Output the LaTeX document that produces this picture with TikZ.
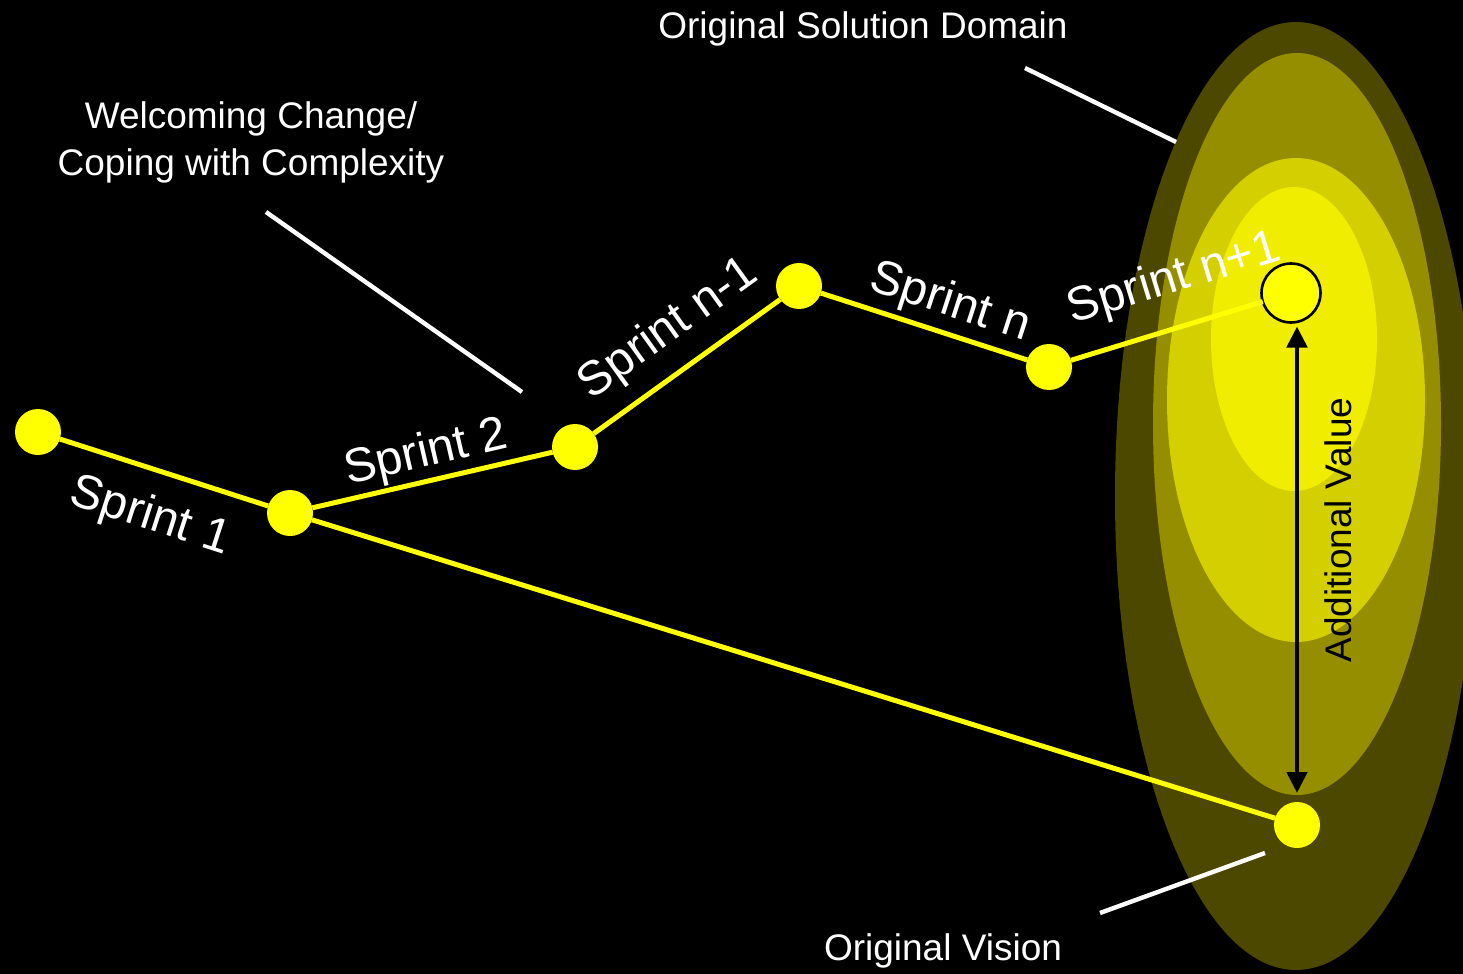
\documentclass[tikz,border=0pt]{standalone}
\usepackage{fontspec}
\setmainfont{Liberation Sans}
\usetikzlibrary{arrows.meta}
\definecolor{ellA}{RGB}{77,72,0}
\definecolor{ellB}{RGB}{149,143,0}
\definecolor{ellC}{RGB}{212,207,0}
\definecolor{ellD}{RGB}{240,237,0}
\definecolor{dotyellow}{RGB}{255,255,0}
\begin{document}
\begin{tikzpicture}[x=0.5pt,y=-0.5pt,
  dot/.style={circle, fill=dotyellow, minimum size=23pt, inner sep=0pt, outer sep=0pt},
  track/.style={draw=dotyellow, line width=2.5pt},
  lbl/.style={text=white, font=\fontsize{18.5}{23.5}\selectfont, inner sep=0pt},
  sprintlbl/.style={text=white, font=\fontsize{24}{28}\selectfont, inner sep=0pt, sloped},
  pointer/.style={draw=white, line width=2.2pt},
  valarrow/.style={draw=black, line width=2.4pt,
    {Triangle[length=10.5pt,width=10pt]}-{Triangle[length=10.5pt,width=10pt]},
    shorten <=2pt, shorten >=4.5pt}]
\fill[black] (0,0) rectangle (1463,974);
\useasboundingbox (0,0) rectangle (1463,974);

% solution domain
\fill[ellA] (1296,496) ellipse [x radius=90.5pt, y radius=237pt];
\fill[ellB] (1297,424) ellipse [x radius=72pt, y radius=185.5pt];
\fill[ellC] (1296,400) ellipse [x radius=64.5pt, y radius=121pt];
\fill[ellD] (1294,339) ellipse [x radius=41.5pt, y radius=76pt];

% sprint points
\node[dot] (s0) at (38,432) {};
\node[dot] (s1) at (290,513) {};
\node[dot] (s2) at (575,447) {};
\node[dot] (s3) at (799,286) {};
\node[dot] (s4) at (1049,367) {};
\node[dot, minimum size=29.5pt, draw=black, line width=1.3pt] (goal) at (1291,293) {};
\node[dot] (vision) at (1297,825) {};

% tracks
\draw[track] (s0) -- node[sprintlbl, pos=0.5, below=11pt] {Sprint 1} (s1);
\draw[track] (s1) -- node[sprintlbl, pos=0.5, above=1pt] {Sprint 2} (s2);
\draw[track] (s2) -- node[sprintlbl, pos=0.53, above=8pt] {Sprint n-1} (s3);
\draw[track] (s3) -- node[sprintlbl, pos=0.58, above=2.5pt] {Sprint n} (s4);
\draw[track] (s4) -- node[sprintlbl, pos=0.61, above=11pt] {Sprint n+1} (goal);
\draw[track] (s1) -- (vision);

% additional value
\draw[valarrow] (vision.north |- goal.south) -- (vision.north);
\node[lbl, text=black, rotate=90, anchor=base] (addval) at (1351,530) {Additional Value};

% labels
\node[lbl, anchor=base] (domain) at (863,39) {Original Solution Domain};
\node[lbl, align=center] (change) at (251,142) {Welcoming Change/\\Coping with Complexity};
\node[lbl, anchor=base] (origvis) at (943,960) {Original Vision};

% pointers
\coordinate (pd1) at (1025,68);
\coordinate (pd2) at (1176,142);
\coordinate (pc1) at (266,212);
\coordinate (pc2) at (522,392);
\coordinate (pv1) at (1265,853);
\coordinate (pv2) at (1100,913);
\draw[pointer] (pd1) -- (pd2);
\draw[pointer] (pc1) -- (pc2);
\draw[pointer] (pv1) -- (pv2);
\end{tikzpicture}
\end{document}
